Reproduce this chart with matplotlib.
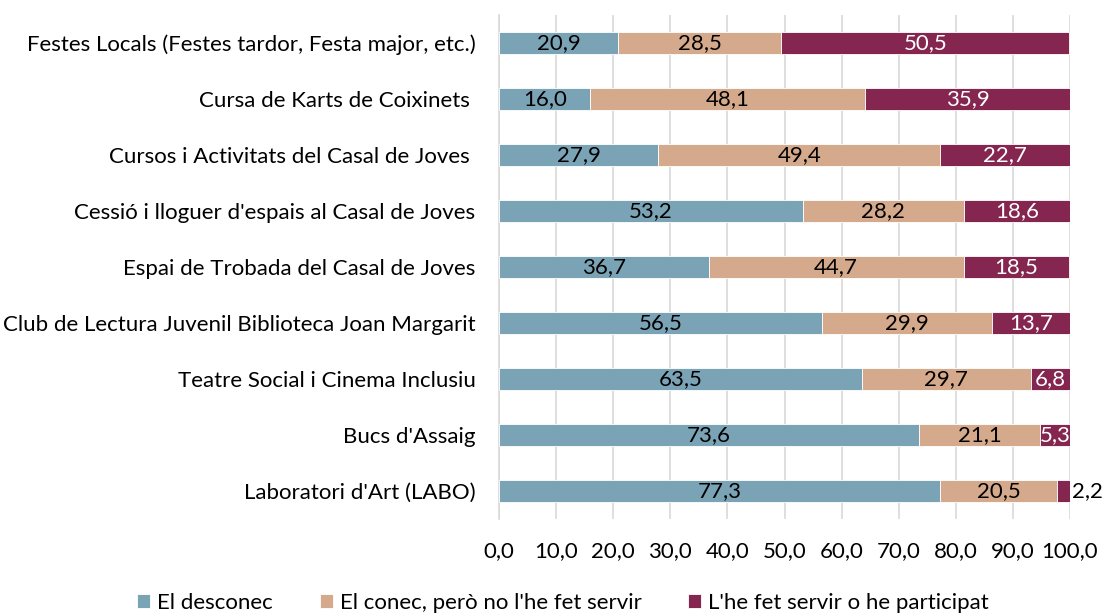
import matplotlib
matplotlib.use("Agg")
import matplotlib.pyplot as plt
import numpy as np

categories = [
    "Festes Locals (Festes tardor, Festa major, etc.)",
    "Cursa de Karts de Coixinets ",
    "Cursos i Activitats del Casal de Joves ",
    "Cessió i lloguer d'espais al Casal de Joves",
    "Espai de Trobada del Casal de Joves",
    "Club de Lectura Juvenil Biblioteca Joan Margarit",
    "Teatre Social i Cinema Inclusiu",
    "Bucs d'Assaig",
    "Laboratori d'Art (LABO)",
]
desconec = [20.9, 16.0, 27.9, 53.2, 36.7, 56.5, 63.5, 73.6, 77.3]
conec = [28.5, 48.1, 49.4, 28.2, 44.7, 29.9, 29.7, 21.1, 20.5]
participat = [50.5, 35.9, 22.7, 18.6, 18.5, 13.7, 6.8, 5.3, 2.2]
series_names = ["El desconec", "El conec, però no l'he fet servir", "L'he fet servir o he participat"]
xticks = [0, 10, 20, 30, 40, 50, 60, 70, 80, 90, 100]

colors = ["#7BA3B6", "#D5A98B", "#84264F"]
txt_colors = ["black", "black", "white"]

plt.rcParams['font.family'] = ['Lato', 'DejaVu Sans']
FS = 16

fig = plt.figure(figsize=(11.05, 6.15), dpi=100)
ax = fig.add_axes([499/1105, 1 - 519/615, (1070 - 499)/1105, (519 - 15)/615])

y = np.arange(len(categories))[::-1]
left = np.zeros(len(categories))
for vals, col, tc, name in zip([desconec, conec, participat], colors, txt_colors, series_names):
    vals = np.array(vals)
    ax.barh(y, vals, left=left, height=0.4, color=col, edgecolor="white", linewidth=0.6, label=name, zorder=3)
    for yi, l, v in zip(y, left, vals):
        if v < 4:
            ax.text(l + v + 0.4, yi, f"{v:.1f}".replace(".", ","), ha="left", va="center",
                    fontsize=FS, color="black", zorder=4)
        else:
            ax.text(l + v / 2, yi, f"{v:.1f}".replace(".", ","), ha="center", va="center",
                    fontsize=FS, color=tc, zorder=4)
    left = left + vals

ax.set_xlim(0, 100)
ax.set_ylim(-0.5, len(categories) - 0.5)
ax.set_yticks(y)
ax.set_yticklabels(categories, fontsize=FS)
ax.set_xticks(xticks)
ax.set_xticklabels([f"{t:.1f}".replace(".", ",") for t in xticks], fontsize=FS)
ax.tick_params(axis="y", length=0, pad=17)
ax.tick_params(axis="x", length=0, pad=16)
ax.grid(axis="x", color="#D9D9D9", linewidth=1.2, zorder=0)
for s in ["top", "right", "bottom"]:
    ax.spines[s].set_visible(False)
ax.spines["left"].set_color("#D9D9D9")
ax.spines["left"].set_linewidth(1.2)

handles, labels = ax.get_legend_handles_labels()
fig.legend(handles, labels, loc="center", bbox_to_anchor=(563/1105, 1 - 603/615), ncol=3,
           frameon=False, fontsize=FS, handlelength=0.6, handleheight=0.6,
           handletextpad=0.3, columnspacing=2.1)

fig.savefig("out.png", dpi=100)
